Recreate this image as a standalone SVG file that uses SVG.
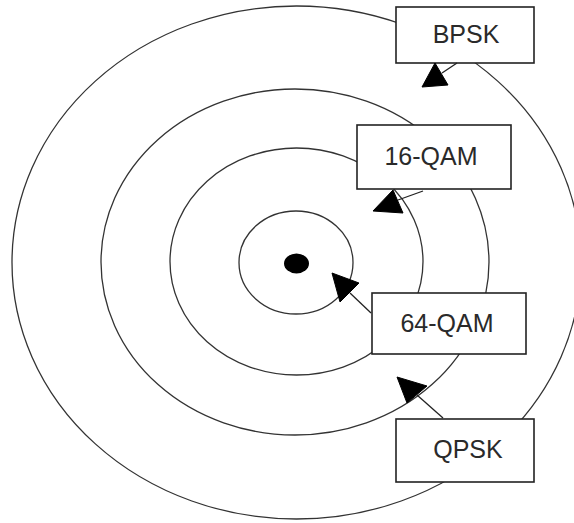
<svg xmlns="http://www.w3.org/2000/svg" width="574" height="523" viewBox="0 0 574 523">
<style>
.ring{fill:none;stroke:#333;stroke-width:1.3}
.box{fill:#fff;stroke:#222;stroke-width:1.6}
.lbl{font-family:"Liberation Sans",Arial,sans-serif;font-size:25px;fill:#2a2a2a;text-anchor:middle}
.conn{stroke:#222;stroke-width:1.3;fill:none}
.head{fill:#000;stroke:#000;stroke-width:1}
</style>
<rect width="574" height="523" fill="#fff"/>
<g id="rings">
<ellipse class="ring" cx="296.5" cy="262.5" rx="284.5" ry="256.5"/>
<ellipse class="ring" cx="295" cy="262" rx="194" ry="173"/>
<ellipse class="ring" cx="296.5" cy="261.5" rx="126.5" ry="113.5"/>
<ellipse class="ring" cx="296" cy="262.5" rx="57" ry="51.5"/>
</g>
<g id="center-dot">
<ellipse cx="296.5" cy="263.5" rx="12.5" ry="10" fill="#000"/>
</g>
<g id="bpsk">
<rect class="box" x="396" y="7" width="138" height="56"/>
<text class="lbl" x="466" y="43">BPSK</text>
</g>
<g id="qam16">
<rect class="box" x="357" y="125" width="154" height="64"/>
<text class="lbl" x="431" y="165">16-QAM</text>
</g>
<g id="qam64">
<rect class="box" x="372" y="293" width="154" height="61"/>
<text class="lbl" x="447" y="332">64-QAM</text>
</g>
<g id="qpsk">
<rect class="box" x="396" y="419" width="138" height="63"/>
<text class="lbl" x="468" y="458">QPSK</text>
</g>
<g id="connectors">
<line class="conn" x1="457" y1="63" x2="442" y2="73"/>
<polygon class="head" points="422,87 435,63 448,85"/>
<line class="conn" x1="423" y1="191" x2="398" y2="200"/>
<polygon class="head" points="373,211 393,190 403,213"/>
<line class="conn" x1="371" y1="313" x2="350" y2="293"/>
<polygon class="head" points="332,273 359,283 340,302"/>
<line class="conn" x1="443" y1="418" x2="417" y2="395"/>
<polygon class="head" points="397,377 427,386 407,403"/>
</g>
</svg>
